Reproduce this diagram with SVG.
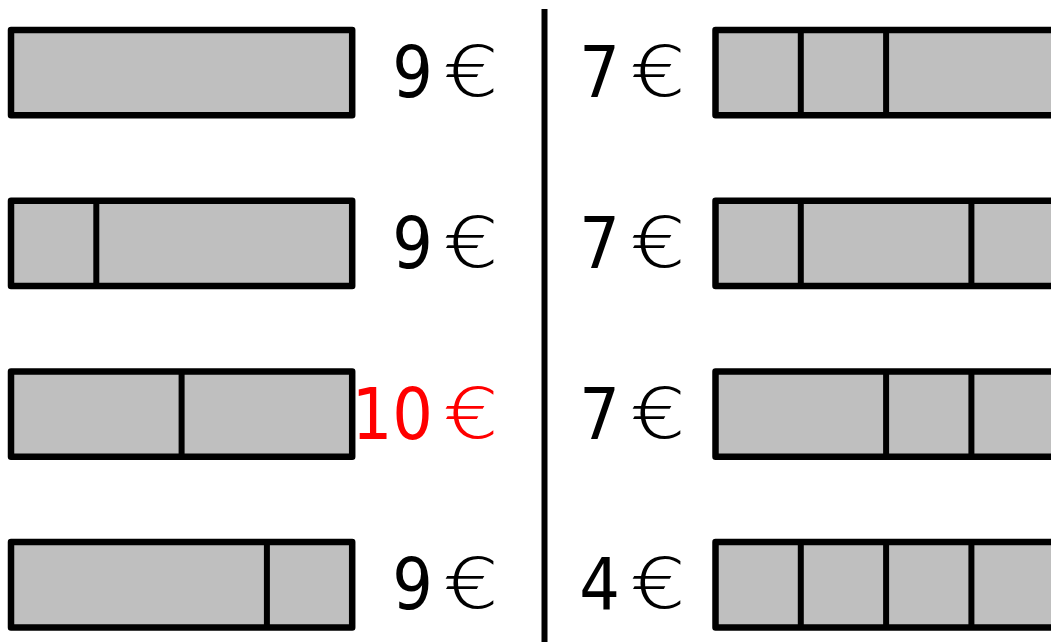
<svg xmlns="http://www.w3.org/2000/svg" width="1051" height="642" viewBox="0 0 1051 642">
<style>
.bar{fill:#bfbfbf;stroke:#000;stroke-width:6.5;stroke-linejoin:round}
.div{stroke:#000;stroke-width:6}
.num{font-family:"DejaVu Sans Condensed","DejaVu Sans","Liberation Sans",sans-serif;font-stretch:condensed;font-size:71px;fill:#000;text-anchor:end}
.eur{font-family:"DejaVu Sans","Liberation Sans",sans-serif;font-weight:200;font-size:70px;fill:#000;text-anchor:middle}
.red{fill:#ff0000}
</style>
<rect width="1051" height="642" fill="#fff"/>
<g id="left-1"><rect class="bar" x="11" y="30" width="341.2" height="85.3"/></g>
<g id="left-2"><rect class="bar" x="11" y="200.7" width="341.2" height="85.3"/><line class="div" x1="96.3" y1="200.7" x2="96.3" y2="286"/></g>
<g id="left-3"><rect class="bar" x="11" y="371.4" width="341.2" height="85.3"/><line class="div" x1="181.6" y1="371.4" x2="181.6" y2="456.7"/></g>
<g id="left-4"><rect class="bar" x="11" y="542.1" width="341.2" height="85.3"/><line class="div" x1="266.9" y1="542.1" x2="266.9" y2="627.4"/></g>
<g id="right-1"><rect class="bar" x="715.5" y="30" width="341.2" height="85.3"/><line class="div" x1="800.8" y1="30" x2="800.8" y2="115.3"/><line class="div" x1="886.1" y1="30" x2="886.1" y2="115.3"/></g>
<g id="right-2"><rect class="bar" x="715.5" y="200.7" width="341.2" height="85.3"/><line class="div" x1="800.8" y1="200.7" x2="800.8" y2="286"/><line class="div" x1="971.4" y1="200.7" x2="971.4" y2="286"/></g>
<g id="right-3"><rect class="bar" x="715.5" y="371.4" width="341.2" height="85.3"/><line class="div" x1="886.1" y1="371.4" x2="886.1" y2="456.7"/><line class="div" x1="971.4" y1="371.4" x2="971.4" y2="456.7"/></g>
<g id="right-4"><rect class="bar" x="715.5" y="542.1" width="341.2" height="85.3"/><line class="div" x1="800.8" y1="542.1" x2="800.8" y2="627.4"/><line class="div" x1="886.1" y1="542.1" x2="886.1" y2="627.4"/><line class="div" x1="971.4" y1="542.1" x2="971.4" y2="627.4"/></g>
<g id="connectors"><line x1="544.5" y1="9" x2="544.5" y2="645" stroke="#000" stroke-width="6"/></g>
<g id="labels">
<text class="num" x="433" y="97">9</text><text class="eur" transform="translate(471 96) scale(1.25 1)">€</text>
<text class="num" x="433" y="268">9</text><text class="eur" transform="translate(471 267) scale(1.25 1)">€</text>
<text class="num red" x="433" y="439">10</text><text class="eur red" transform="translate(471 438) scale(1.25 1)">€</text>
<text class="num" x="620" y="609">4</text><text class="eur" transform="translate(658 608) scale(1.25 1)">€</text>
<text class="num" x="433" y="609">9</text><text class="eur" transform="translate(471 608) scale(1.25 1)">€</text>
<text class="num" x="620" y="97">7</text><text class="eur" transform="translate(658 96) scale(1.25 1)">€</text>
<text class="num" x="620" y="268">7</text><text class="eur" transform="translate(658 267) scale(1.25 1)">€</text>
<text class="num" x="620" y="439">7</text><text class="eur" transform="translate(658 438) scale(1.25 1)">€</text>
</g>
</svg>
